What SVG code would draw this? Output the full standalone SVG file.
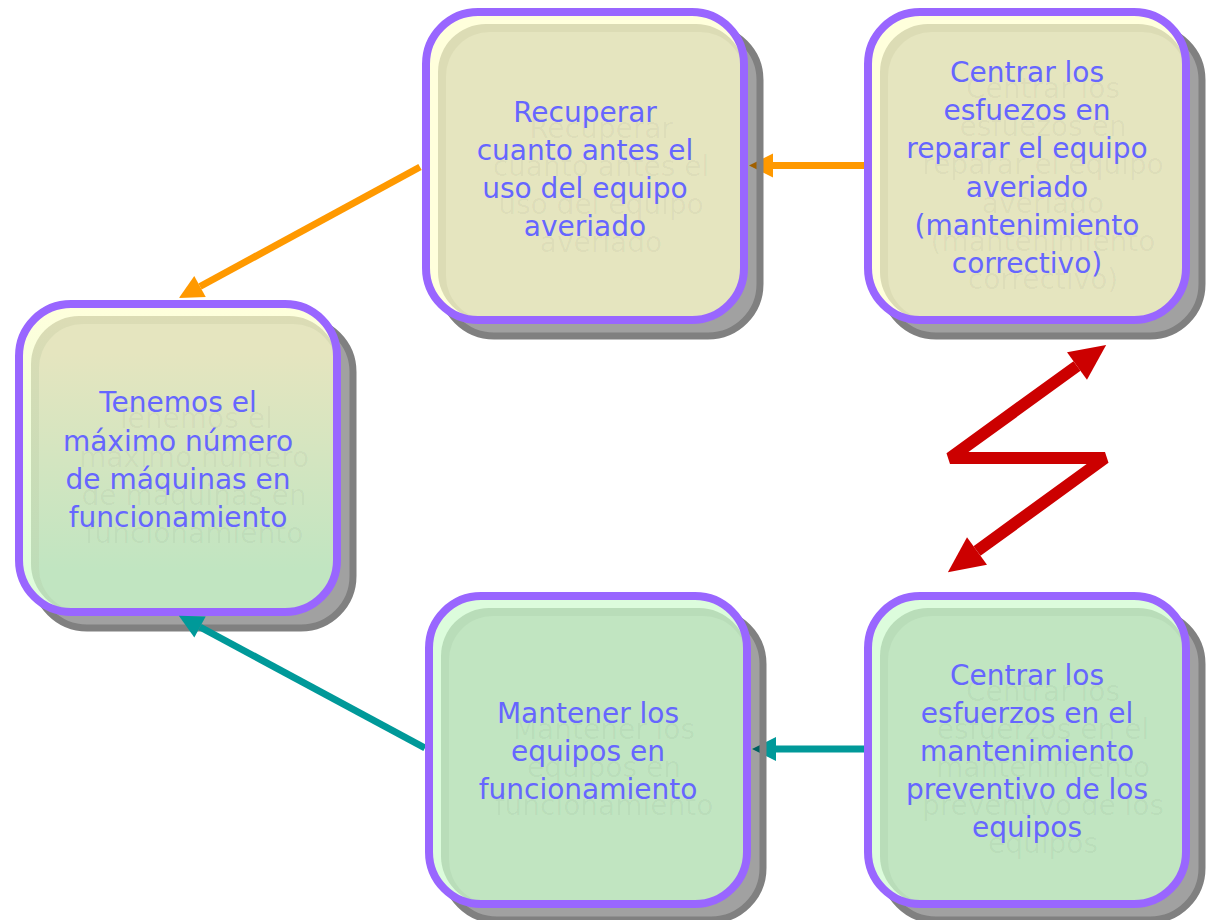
<svg xmlns="http://www.w3.org/2000/svg" width="1212" height="920" viewBox="0 0 1212 920">
<style>
.shf{fill:#000;fill-opacity:.37}
.shs{fill:none;stroke:#808080;stroke-width:7}
.bd{fill:none;stroke:#9966ff;stroke-width:8}
.lbl{font-family:"DejaVu Sans","Liberation Sans",sans-serif;font-size:28px;fill:#6666ff;text-anchor:middle}
.lsh{font-family:"DejaVu Sans","Liberation Sans",sans-serif;font-size:28px;fill:#000;fill-opacity:.04;text-anchor:middle}
.yb{fill:#ffffdc}.ye{fill:#dcdcb5}.ym{fill:#e5e5bf}
.gb{fill:#dcfcdc}.ge{fill:#b9ddb9}.gm{fill:#c1e5c1}
.or{fill:none;stroke:#ff9900;stroke-width:7}
.te{fill:none;stroke:#009999;stroke-width:7}
.rd{fill:none;stroke:#cc0000;stroke-width:12;stroke-linejoin:miter;stroke-miterlimit:2}
</style>
<defs>
<linearGradient id="cb" x1="0" y1="0" x2="0" y2="1"><stop offset="0" stop-color="#ffffdc"/><stop offset="1" stop-color="#dcfcdc"/></linearGradient>
<linearGradient id="ce" x1="0" y1="0" x2="0" y2="1"><stop offset="0" stop-color="#dcdcb5"/><stop offset="1" stop-color="#b9ddb9"/></linearGradient>
<linearGradient id="cm" x1="0" y1="0" x2="0" y2="1"><stop offset="0.1" stop-color="#e5e5bf"/><stop offset="0.85" stop-color="#c1e5c1"/></linearGradient>
<marker id="ho" markerUnits="userSpaceOnUse" markerWidth="24" markerHeight="24" refX="0" refY="12" orient="auto" overflow="visible"><path d="M0,0 L24,12 L0,24 Z" fill="#ff9900"/></marker>
<marker id="ht" markerUnits="userSpaceOnUse" markerWidth="24" markerHeight="24" refX="0" refY="12" orient="auto" overflow="visible"><path d="M0,0 L24,12 L0,24 Z" fill="#009999"/></marker>
<marker id="hr" markerUnits="userSpaceOnUse" markerWidth="36" markerHeight="34" refX="0" refY="17" orient="auto-start-reverse" overflow="visible"><path d="M0,0 L36,17 L0,34 Z" fill="#cc0000"/></marker>
</defs>
<rect width="1212" height="920" fill="#fff"/>

<g id="n-tenemos">
<rect class="shf" x="35" y="320" width="318" height="308" rx="52"/>
<rect class="shs" x="35" y="320" width="318" height="308" rx="52"/>
<rect fill="url(#cb)" x="19" y="304" width="318" height="308" rx="52"/>
<rect fill="url(#ce)" x="31" y="316" width="306" height="296" rx="48"/>
<rect fill="url(#cm)" x="39" y="324" width="298" height="288" rx="44"/>
<rect class="bd" x="19" y="304" width="318" height="308" rx="52"/>
<text class="lsh" transform="translate(16,16)"><tspan x="178" y="412">Tenemos el</tspan><tspan x="178" y="451">máximo número</tspan><tspan x="178" y="489">de máquinas en</tspan><tspan x="178" y="527">funcionamiento</tspan></text>
<text class="lbl"><tspan x="178" y="412">Tenemos el</tspan><tspan x="178" y="451">máximo número</tspan><tspan x="178" y="489">de máquinas en</tspan><tspan x="178" y="527">funcionamiento</tspan></text>
</g>

<g id="connectors">
<path class="or" d="M868,165.5 L773,165.5" marker-end="url(#ho)"/>
<path class="or" d="M420,167 L200,286.5" marker-end="url(#ho)"/>
<path class="te" d="M868,749 L776,749" marker-end="url(#ht)"/>
<path class="te" d="M425,748 L200,627" marker-end="url(#ht)"/>
<path class="rd" d="M1077,366 L950,458 L1105,458 L977,551" marker-start="url(#hr)" marker-end="url(#hr)"/>
</g>

<g id="n-recuperar">
<rect class="shf" x="442" y="28" width="318" height="308" rx="52"/>
<rect class="shs" x="442" y="28" width="318" height="308" rx="52"/>
<rect class="yb" x="426" y="12" width="318" height="308" rx="52"/>
<rect class="ye" x="438" y="24" width="306" height="296" rx="48"/>
<rect class="ym" x="446" y="32" width="298" height="288" rx="44"/>
<rect class="bd" x="426" y="12" width="318" height="308" rx="52"/>
<text class="lsh" transform="translate(16,16)"><tspan x="585" y="122">Recuperar</tspan><tspan x="585" y="160">cuanto antes el</tspan><tspan x="585" y="198">uso del equipo</tspan><tspan x="585" y="236">averiado</tspan></text>
<text class="lbl"><tspan x="585" y="122">Recuperar</tspan><tspan x="585" y="160">cuanto antes el</tspan><tspan x="585" y="198">uso del equipo</tspan><tspan x="585" y="236">averiado</tspan></text>
</g>

<g id="n-correctivo">
<rect class="shf" x="884" y="28" width="318" height="308" rx="52"/>
<rect class="shs" x="884" y="28" width="318" height="308" rx="52"/>
<rect class="yb" x="868" y="12" width="318" height="308" rx="52"/>
<rect class="ye" x="880" y="24" width="306" height="296" rx="48"/>
<rect class="ym" x="888" y="32" width="298" height="288" rx="44"/>
<rect class="bd" x="868" y="12" width="318" height="308" rx="52"/>
<text class="lsh" transform="translate(16,16)"><tspan x="1027" y="82">Centrar los</tspan><tspan x="1027" y="120">esfuezos en</tspan><tspan x="1027" y="158">reparar el equipo</tspan><tspan x="1027" y="197">averiado</tspan><tspan x="1027" y="235">(mantenimiento</tspan><tspan x="1027" y="273">correctivo)</tspan></text>
<text class="lbl"><tspan x="1027" y="82">Centrar los</tspan><tspan x="1027" y="120">esfuezos en</tspan><tspan x="1027" y="158">reparar el equipo</tspan><tspan x="1027" y="197">averiado</tspan><tspan x="1027" y="235">(mantenimiento</tspan><tspan x="1027" y="273">correctivo)</tspan></text>
</g>

<g id="n-mantener">
<rect class="shf" x="445" y="612" width="318" height="308" rx="52"/>
<rect class="shs" x="445" y="612" width="318" height="308" rx="52"/>
<rect class="gb" x="429" y="596" width="318" height="308" rx="52"/>
<rect class="ge" x="441" y="608" width="306" height="296" rx="48"/>
<rect class="gm" x="449" y="616" width="298" height="288" rx="44"/>
<rect class="bd" x="429" y="596" width="318" height="308" rx="52"/>
<text class="lsh" transform="translate(16,16)"><tspan x="588" y="723">Mantener los</tspan><tspan x="588" y="761">equipos en</tspan><tspan x="588" y="799">funcionamiento</tspan></text>
<text class="lbl"><tspan x="588" y="723">Mantener los</tspan><tspan x="588" y="761">equipos en</tspan><tspan x="588" y="799">funcionamiento</tspan></text>
</g>

<g id="n-preventivo">
<rect class="shf" x="884" y="612" width="318" height="308" rx="52"/>
<rect class="shs" x="884" y="612" width="318" height="308" rx="52"/>
<rect class="gb" x="868" y="596" width="318" height="308" rx="52"/>
<rect class="ge" x="880" y="608" width="306" height="296" rx="48"/>
<rect class="gm" x="888" y="616" width="298" height="288" rx="44"/>
<rect class="bd" x="868" y="596" width="318" height="308" rx="52"/>
<text class="lsh" transform="translate(16,16)"><tspan x="1027" y="685">Centrar los</tspan><tspan x="1027" y="723">esfuerzos en el</tspan><tspan x="1027" y="761">mantenimiento</tspan><tspan x="1027" y="799">preventivo de los</tspan><tspan x="1027" y="837">equipos</tspan></text>
<text class="lbl"><tspan x="1027" y="685">Centrar los</tspan><tspan x="1027" y="723">esfuerzos en el</tspan><tspan x="1027" y="761">mantenimiento</tspan><tspan x="1027" y="799">preventivo de los</tspan><tspan x="1027" y="837">equipos</tspan></text>
</g>
</svg>
